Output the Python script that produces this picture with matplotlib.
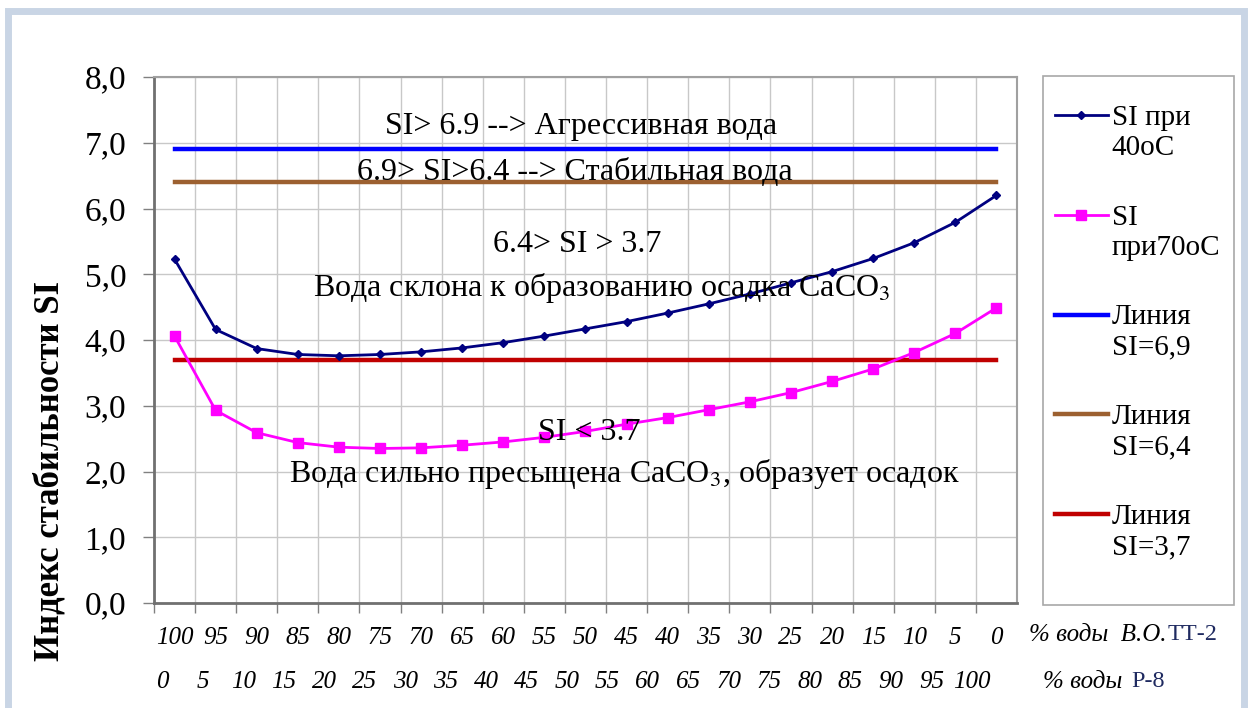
import numpy as np
import matplotlib.pyplot as plt
from matplotlib.ticker import FuncFormatter, MultipleLocator
from matplotlib.patches import Rectangle

plt.rcParams['font.family'] = ['Liberation Serif', 'DejaVu Serif']
plt.rcParams['mathtext.fontset'] = 'stix'

# share of water, % (top row В.О. ТТ-2, bottom row Р-8)
pct_tt2 = [100, 95, 90, 85, 80, 75, 70, 65, 60, 55, 50, 45, 40, 35, 30, 25, 20, 15, 10, 5, 0]
pct_p8 = [0, 5, 10, 15, 20, 25, 30, 35, 40, 45, 50, 55, 60, 65, 70, 75, 80, 85, 90, 95, 100]

# stability index
si_40 = [5.23, 4.16, 3.87, 3.78, 3.76, 3.78, 3.82, 3.88, 3.96, 4.06, 4.17,
         4.28, 4.41, 4.55, 4.70, 4.87, 5.04, 5.24, 5.48, 5.79, 6.20]
si_70 = [4.06, 2.93, 2.59, 2.44, 2.37, 2.35, 2.36, 2.40, 2.45, 2.52, 2.61,
         2.72, 2.82, 2.94, 3.06, 3.20, 3.37, 3.56, 3.81, 4.10, 4.49]

thresholds = [6.9, 6.4, 3.7]
thr_colors = ['#0000FF', '#9C6030', '#C00000']
thr_labels = ['Линия\nSI=6,9', 'Линия\nSI=6,4', 'Линия\nSI=3,7']

idx = np.arange(len(pct_tt2))

fig = plt.figure(figsize=(12.52, 7.08), dpi=100)
ax = fig.add_axes([0.123, 0.1483, 0.6893, 0.7429])

# outer frame of the chart object and the legend frame
fig.patches.append(Rectangle((0.006, -0.05), 0.988, 1.035, transform=fig.transFigure,
                             fill=False, edgecolor='#C9D5E5', linewidth=5))
fig.patches.append(Rectangle((1043 / 1252, 1 - 605 / 708), 191 / 1252, 529 / 708,
                             transform=fig.transFigure, fill=False,
                             edgecolor='#A8A8A8', linewidth=1.2))

l40, = ax.plot(idx, si_40, color='#000080', marker='D', markersize=4.5, linewidth=2,
               label='SI при\n40oC', zorder=4)
l70, = ax.plot(idx, si_70, color='#FF00FF', marker='s', markersize=7, linewidth=2,
               label='SI\nпри70oC', zorder=4)
handles = [l40, l70]
for v, c, lab in zip(thresholds, thr_colors, thr_labels):
    h, = ax.plot(idx, np.full(len(idx), v), color=c, linewidth=3.2, label=lab, zorder=3)
    handles.append(h)

ax.set_xlim(-0.5, len(idx) - 0.5)
ax.set_ylim(0, 8)
ax.yaxis.set_major_locator(MultipleLocator(1))
ax.yaxis.set_major_formatter(FuncFormatter(lambda v, p: f'{v:.1f}'.replace('.', ',')))
ax.set_xticks(idx - 0.5, minor=False)
ax.set_xticks(idx, minor=True)
ax.set_xticklabels([])
ax.set_xticklabels([str(p) for p in pct_tt2], minor=True)
ax.tick_params(axis='x', which='minor', length=0, pad=17, labelsize=18)
ax.tick_params(axis='x', which='major', length=7, color='#808080', width=1)
ax.tick_params(axis='y', length=8, color='#808080', width=1, pad=12, labelsize=24)
for t in ax.get_xticklabels(minor=True):
    t.set_fontstyle('italic')
ax.grid(True, which='major', color='#C8C8C8', linewidth=1)
ax.set_axisbelow(True)
for s in ['left', 'bottom']:
    ax.spines[s].set_color('#707070')
    ax.spines[s].set_linewidth(2)
for s in ['top', 'right']:
    ax.spines[s].set_color('#A0A0A0')
    ax.spines[s].set_linewidth(1.5)

# second row of x labels and axis captions
for i, p in enumerate(pct_p8):
    ax.text(i * 0.985 - 0.3, -0.150, str(p), transform=ax.get_xaxis_transform(),
            ha='center', va='center', fontsize=18, fontstyle='italic')
ax.text(1.014, -0.06, '% воды  В.О.', transform=ax.transAxes, ha='left', va='center',
        fontsize=18, fontstyle='italic')
ax.text(1.030, -0.150, '% воды', transform=ax.transAxes, ha='left', va='center',
        fontsize=18, fontstyle='italic')
ax.text(1.174, -0.06, 'ТТ-2', transform=ax.transAxes, ha='left', va='center',
        fontsize=17.5, color='#1F2A60')
ax.text(1.133, -0.150, 'Р-8', transform=ax.transAxes, ha='left', va='center',
        fontsize=17.5, color='#1F2A60')

fig.text(0.040, 0.335, 'Индекс стабильности SI', rotation=90, ha='center', va='center',
         fontsize=25, fontweight='bold')

# zone captions
tk = dict(ha='center', va='center', fontsize=23, zorder=5)
ax.text(9.9, 7.25, 'SI> 6.9 --> Агрессивная вода', **tk)
ax.text(9.73, 6.55, '6.9> SI>6.4 --> Стабильная вода', **tk)
ax.text(9.8, 5.45, '6.4> SI > 3.7', **tk)
ax.text(10.4, 4.79, 'Вода склона к образованию осадка CaCO$_3$', **tk)
ax.text(10.1, 2.6, 'SI < 3.7', **tk)
ax.text(10.95, 1.96, 'Вода сильно пресыщена CaCO$_3$, образует осадок', **tk)

leg = ax.legend(handles=handles, loc='upper left', bbox_to_anchor=(1055 / 1252, 1 - 105 / 708),
                bbox_transform=fig.transFigure, borderaxespad=0, fontsize=21, frameon=False,
                handlelength=1.8, handletextpad=0.15, borderpad=0, labelspacing=1.5)
for col in leg._legend_handle_box.get_children():
    for row in col.get_children():
        row.align = 'top'

fig.savefig('out.png', dpi=100, facecolor='white')
